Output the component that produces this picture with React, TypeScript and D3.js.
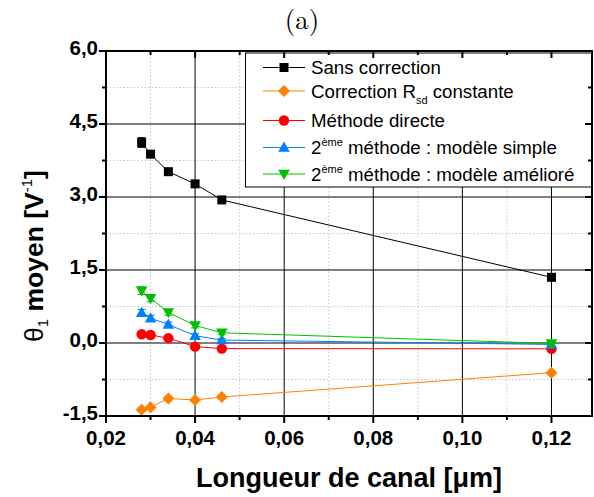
import React from "react";
import * as d3 from "d3";

const W = 594;
const H = 497;

const lengths = [0.028, 0.030, 0.034, 0.040, 0.046, 0.120];

const sansCorrection = [4.12, 3.88, 3.52, 3.27, 2.94, 1.35];
const sansCorrectionErr = [0.1, 0.07, 0.05, 0.04, 0.04, 0.04];
const correctionRsd = [-1.37, -1.32, -1.14, -1.17, -1.11, -0.61];
const correctionRsdErr = [0.03, 0.03, 0.03, 0.03, 0.03, 0.03];
const methodeDirecte = [0.18, 0.165, 0.1, -0.075, -0.115, -0.12];
const methodeDirecteErr = [0.03, 0.03, 0.03, 0.03, 0.03, 0.03];
const modeleSimple = [0.62, 0.51, 0.38, 0.15, 0.06, -0.03];
const modeleSimpleErr = [0.07, 0.06, 0.05, 0.04, 0.03, 0.03];
const modeleAmeliore = [1.075, 0.92, 0.63, 0.36, 0.21, -0.01];
const modeleAmelioreErr = [0.08, 0.07, 0.06, 0.05, 0.04, 0.04];

const xTickValues = [0.02, 0.04, 0.06, 0.08, 0.10, 0.12];
const xMinorValues = [0.03, 0.05, 0.07, 0.09, 0.11];
const yTickValues = [-1.5, 0, 1.5, 3.0, 4.5, 6.0];
const yMinorValues = [-0.75, 0.75, 2.25, 3.75, 5.25];

const fmt = (v: number, d: number) => v.toFixed(d).replace(".", ",");

type Series = {
  key: string;
  values: number[];
  errors: number[];
  color: string;
  marker: "square" | "diamond" | "circle" | "up" | "down";
};

const series: Series[] = [
  { key: "sans", values: sansCorrection, errors: sansCorrectionErr, color: "#000000", marker: "square" },
  { key: "rsd", values: correctionRsd, errors: correctionRsdErr, color: "#FF8000", marker: "diamond" },
  { key: "dir", values: methodeDirecte, errors: methodeDirecteErr, color: "#FF0000", marker: "circle" },
  { key: "simple", values: modeleSimple, errors: modeleSimpleErr, color: "#0080FF", marker: "up" },
  { key: "amel", values: modeleAmeliore, errors: modeleAmelioreErr, color: "#00C000", marker: "down" },
];

const left = 106;
const right = 592;
const top = 51;
const bottom = 416;

const x = d3.scaleLinear().domain([0.02, 0.1291]).range([left, right]);
const y = d3.scaleLinear().domain([-1.5, 6.0]).range([bottom, top]);

function markerPath(m: Series["marker"]): string {
  switch (m) {
    case "square":
      return "M-4.5,-4.5H4.5V4.5H-4.5Z";
    case "diamond":
      return "M0,-6L6,0L0,6L-6,0Z";
    case "circle":
      return d3.symbol().type(d3.symbolCircle).size(Math.PI * 5.2 * 5.2)() || "";
    case "up":
      return "M0,-6L5.8,4.2L-5.8,4.2Z";
    case "down":
      return "M0,6L5.8,-4.2L-5.8,-4.2Z";
  }
}

const FONT = "'Liberation Sans', Arial, Helvetica, sans-serif";

export default function App() {
  const line = d3
    .line<number>()
    .x((_, i) => x(lengths[i]))
    .y((d) => y(d));

  const legendRows = [
    { s: series[0], baseline: 74, label: <tspan>Sans correction</tspan> },
    {
      s: series[1],
      baseline: 97.5,
      label: (
        <>
          <tspan>Correction R</tspan>
          <tspan fontSize={11} dy={6}>sd</tspan>
          <tspan dy={-6}> constante</tspan>
        </>
      ),
    },
    { s: series[2], baseline: 127, label: <tspan>Méthode directe</tspan> },
    {
      s: series[3],
      baseline: 154,
      label: (
        <>
          <tspan>2</tspan>
          <tspan fontSize={11} dy={-8}>ème</tspan>
          <tspan dy={8}> méthode : modèle simple</tspan>
        </>
      ),
    },
    {
      s: series[4],
      baseline: 180.5,
      label: (
        <>
          <tspan>2</tspan>
          <tspan fontSize={11} dy={-8}>ème</tspan>
          <tspan dy={8}> méthode : modèle amélioré</tspan>
        </>
      ),
    },
  ];

  return (
    <svg
      width={W}
      height={H}
      viewBox={`0 0 ${W} ${H}`}
      style={{ position: "absolute", left: 0, top: 0, background: "#fff" }}
    >
      <rect x={0} y={0} width={W} height={H} fill="#fff" />
      {/* title */}
      <text
        x={302}
        y={29}
        textAnchor="middle"
        fontFamily="'Latin Modern Roman', 'DejaVu Serif', 'Liberation Serif', serif"
        fontSize={27}
        fill="#000"
      >
        (a)
      </text>

      {/* minor grid */}
      {xMinorValues.map((v) => (
        <line key={"xm" + v} x1={x(v)} x2={x(v)} y1={top} y2={bottom} stroke="#c8c8c8" strokeWidth={1} strokeDasharray="1.5,2" />
      ))}
      {yMinorValues.map((v) => (
        <line key={"ym" + v} x1={left} x2={right} y1={y(v)} y2={y(v)} stroke="#c8c8c8" strokeWidth={1} strokeDasharray="1.5,2" />
      ))}
      {/* major grid */}
      {xTickValues.slice(1).map((v) => (
        <line key={"xg" + v} x1={x(v)} x2={x(v)} y1={top} y2={bottom} stroke="#000" strokeWidth={1} />
      ))}
      {yTickValues.slice(1, -1).map((v) => (
        <line key={"yg" + v} x1={left} x2={right} y1={y(v)} y2={y(v)} stroke="#000" strokeWidth={1} />
      ))}

      {/* legend box */}
      <rect x={245.5} y={53} width={346} height={134} fill="#fff" stroke="#000" strokeWidth={1} />
      {legendRows.map((r) => {
        const cy = r.baseline - 6.5;
        return (
          <g key={"lg" + r.s.key}>
            <line x1={263} x2={305} y1={cy} y2={cy} stroke={r.s.color} strokeWidth={1} />
            <path d={markerPath(r.s.marker)} transform={`translate(284,${cy})`} fill={r.s.color} />
            <text x={311} y={r.baseline} fontFamily={FONT} fontSize={18.7} fill="#000">
              {r.label}
            </text>
          </g>
        );
      })}

      {/* series */}
      {series.map((s) => (
        <g key={s.key}>
          <path d={line(s.values) || ""} fill="none" stroke={s.color} strokeWidth={1} />
          {s.values.map((v, i) => {
            const cx = x(lengths[i]);
            const e = s.errors[i];
            return (
              <g key={i}>
                <line x1={cx} x2={cx} y1={y(v + e)} y2={y(v - e)} stroke={s.color} strokeWidth={1} />
                <line x1={cx - 4} x2={cx + 4} y1={y(v + e)} y2={y(v + e)} stroke={s.color} strokeWidth={1} />
                <line x1={cx - 4} x2={cx + 4} y1={y(v - e)} y2={y(v - e)} stroke={s.color} strokeWidth={1} />
                <path d={markerPath(s.marker)} transform={`translate(${cx},${y(v)})`} fill={s.color} />
              </g>
            );
          })}
        </g>
      ))}

      {/* frame */}
      <rect x={left} y={top} width={right - left} height={bottom - top} fill="none" stroke="#000" strokeWidth={2} />

      {/* bottom axis ticks */}
      {xTickValues.map((v) => (
        <g key={"xt" + v}>
          <line x1={x(v)} x2={x(v)} y1={bottom} y2={bottom + 7} stroke="#000" strokeWidth={2} />
          <line x1={x(v)} x2={x(v)} y1={top} y2={top + 7} stroke="#000" strokeWidth={2} />
          <text x={x(v)} y={445} textAnchor="middle" fontFamily={FONT} fontWeight="bold" fontSize={20.5} fill="#000">
            {fmt(v, 2)}
          </text>
        </g>
      ))}
      {xMinorValues.map((v) => (
        <g key={"xmt" + v}>
          <line x1={x(v)} x2={x(v)} y1={bottom} y2={bottom + 4} stroke="#000" strokeWidth={2} />
          <line x1={x(v)} x2={x(v)} y1={top} y2={top + 4} stroke="#000" strokeWidth={2} />
        </g>
      ))}
      {/* left axis ticks */}
      {yTickValues.map((v) => (
        <g key={"yt" + v}>
          <line x1={left - 7} x2={left} y1={y(v)} y2={y(v)} stroke="#000" strokeWidth={2} />
          <line x1={right - 7} x2={right} y1={y(v)} y2={y(v)} stroke="#000" strokeWidth={2} />
          <text x={98} y={y(v) + 4} textAnchor="end" fontFamily={FONT} fontWeight="bold" fontSize={20.5} fill="#000">
            {fmt(v, 1)}
          </text>
        </g>
      ))}
      {yMinorValues.map((v) => (
        <g key={"ymt" + v}>
          <line x1={left - 4} x2={left} y1={y(v)} y2={y(v)} stroke="#000" strokeWidth={2} />
          <line x1={right - 4} x2={right} y1={y(v)} y2={y(v)} stroke="#000" strokeWidth={2} />
        </g>
      ))}

      {/* axis titles */}
      <text x={349} y={487} textAnchor="middle" fontFamily={FONT} fontWeight="bold" fontSize={27} fill="#000">
        Longueur de canal [μm]
      </text>
      <text
        transform="translate(43,256) rotate(-90)"
        textAnchor="middle"
        fontFamily={FONT}
        fontWeight="bold"
        fontSize={26.5}
        fill="#000"
      >
        <tspan fontWeight="normal">θ</tspan>
        <tspan fontSize={15} dy={5} fontWeight="normal">1</tspan>
        <tspan dy={-5}> moyen [V</tspan>
        <tspan fontSize={15} dy={-11} fontWeight="normal">-1</tspan>
        <tspan dy={11}>]</tspan>
      </text>
    </svg>
  );
}
